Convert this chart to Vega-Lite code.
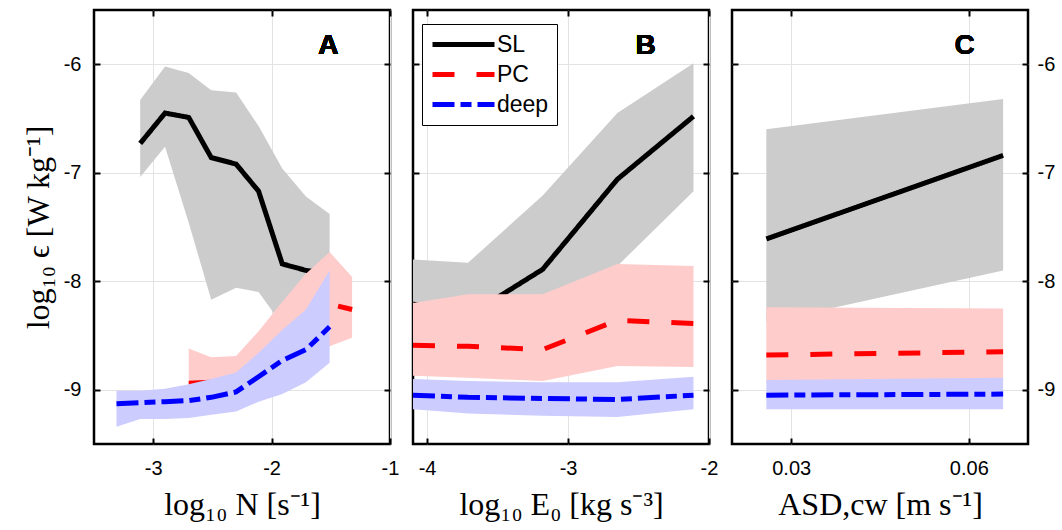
{
  "$schema": "https://vega.github.io/schema/vega-lite/v6.json",
  "padding": {"left": 20, "top": 7, "right": 0, "bottom": 0},
  "background": "white",
  "bounds": "flush",
  "config": {
    "view": {"stroke": "black", "strokeWidth": 2.5},
    "axis": {
      "labelFont": "Liberation Sans", "labelFontSize": 20, "labelColor": "black",
      "titleFont": "Liberation Serif", "titleFontSize": 32, "titleFontWeight": "normal", "titleColor": "black",
      "domain": false, "tickColor": "black", "tickWidth": 2, "tickSize": -6,
      "gridColor": "#e3e3e3", "gridWidth": 1,
      "labelFlush": false, "labelOverlap": false, "labelBound": false
    },
    "text": {"font": "Liberation Sans"}
  },
  "spacing": 23,
  "resolve": {"legend": {"color": "independent", "strokeDash": "independent"}},
  "datasets": {
    "d": [
      {"p": "A", "s": "SL", "x": -3.11, "y": -6.73, "lo": -7.04, "hi": -6.33},
      {"p": "A", "s": "SL", "x": -2.90, "y": -6.45, "lo": -6.76, "hi": -6.02},
      {"p": "A", "s": "SL", "x": -2.70, "y": -6.49, "lo": -7.46, "hi": -6.08},
      {"p": "A", "s": "SL", "x": -2.51, "y": -6.86, "lo": -8.17, "hi": -6.24},
      {"p": "A", "s": "SL", "x": -2.30, "y": -6.92, "lo": -8.06, "hi": -6.26},
      {"p": "A", "s": "SL", "x": -2.11, "y": -7.17, "lo": -8.10, "hi": -6.57},
      {"p": "A", "s": "SL", "x": -1.91, "y": -7.84, "lo": -8.40, "hi": -6.96},
      {"p": "A", "s": "SL", "x": -1.71, "y": -7.90, "lo": -8.35, "hi": -7.22},
      {"p": "A", "s": "SL", "x": -1.51, "y": -7.93, "lo": -8.10, "hi": -7.38},
      {"p": "A", "s": "PC", "x": -2.70, "y": -8.94, "lo": -9.10, "hi": -8.62},
      {"p": "A", "s": "PC", "x": -2.51, "y": -8.93, "lo": -9.08, "hi": -8.70},
      {"p": "A", "s": "PC", "x": -2.30, "y": -8.88, "lo": -9.05, "hi": -8.69},
      {"p": "A", "s": "PC", "x": -2.11, "y": -8.78, "lo": -8.95, "hi": -8.46},
      {"p": "A", "s": "PC", "x": -1.91, "y": -8.62, "lo": -8.85, "hi": -8.19},
      {"p": "A", "s": "PC", "x": -1.71, "y": -8.40, "lo": -8.72, "hi": -7.93},
      {"p": "A", "s": "PC", "x": -1.51, "y": -8.21, "lo": -8.60, "hi": -7.73},
      {"p": "A", "s": "PC", "x": -1.32, "y": -8.26, "lo": -8.52, "hi": -7.96},
      {"p": "A", "s": "deep", "x": -3.31, "y": -9.13, "lo": -9.34, "hi": -9.01},
      {"p": "A", "s": "deep", "x": -3.11, "y": -9.12, "lo": -9.27, "hi": -9.01},
      {"p": "A", "s": "deep", "x": -2.90, "y": -9.11, "lo": -9.27, "hi": -8.99},
      {"p": "A", "s": "deep", "x": -2.70, "y": -9.10, "lo": -9.26, "hi": -8.95},
      {"p": "A", "s": "deep", "x": -2.51, "y": -9.07, "lo": -9.23, "hi": -8.90},
      {"p": "A", "s": "deep", "x": -2.30, "y": -9.02, "lo": -9.20, "hi": -8.84},
      {"p": "A", "s": "deep", "x": -2.11, "y": -8.88, "lo": -9.11, "hi": -8.66},
      {"p": "A", "s": "deep", "x": -1.91, "y": -8.73, "lo": -9.04, "hi": -8.45},
      {"p": "A", "s": "deep", "x": -1.71, "y": -8.63, "lo": -8.93, "hi": -8.26},
      {"p": "A", "s": "deep", "x": -1.51, "y": -8.42, "lo": -8.75, "hi": -7.90},
      {"p": "B", "s": "SL", "x": -4.10, "y": -8.21, "lo": -8.50, "hi": -7.80},
      {"p": "B", "s": "SL", "x": -3.71, "y": -8.32, "lo": -8.50, "hi": -7.83},
      {"p": "B", "s": "SL", "x": -3.18, "y": -7.89, "lo": -8.30, "hi": -7.21},
      {"p": "B", "s": "SL", "x": -2.65, "y": -7.06, "lo": -7.86, "hi": -6.45},
      {"p": "B", "s": "SL", "x": -2.11, "y": -6.48, "lo": -7.17, "hi": -5.99},
      {"p": "B", "s": "PC", "x": -4.10, "y": -8.59, "lo": -8.87, "hi": -8.20},
      {"p": "B", "s": "PC", "x": -3.71, "y": -8.60, "lo": -8.89, "hi": -8.12},
      {"p": "B", "s": "PC", "x": -3.18, "y": -8.63, "lo": -8.92, "hi": -8.12},
      {"p": "B", "s": "PC", "x": -2.65, "y": -8.36, "lo": -8.78, "hi": -7.84},
      {"p": "B", "s": "PC", "x": -2.11, "y": -8.39, "lo": -8.79, "hi": -7.86},
      {"p": "B", "s": "deep", "x": -4.10, "y": -9.05, "lo": -9.18, "hi": -8.90},
      {"p": "B", "s": "deep", "x": -3.71, "y": -9.07, "lo": -9.22, "hi": -8.92},
      {"p": "B", "s": "deep", "x": -3.18, "y": -9.08, "lo": -9.24, "hi": -8.93},
      {"p": "B", "s": "deep", "x": -2.65, "y": -9.09, "lo": -9.25, "hi": -8.93},
      {"p": "B", "s": "deep", "x": -2.11, "y": -9.05, "lo": -9.18, "hi": -8.88},
      {"p": "C", "s": "SL", "x": 0.0258, "y": -7.61, "lo": -8.38, "hi": -6.60},
      {"p": "C", "s": "SL", "x": 0.0658, "y": -6.84, "lo": -7.90, "hi": -6.32},
      {"p": "C", "s": "PC", "x": 0.0258, "y": -8.68, "lo": -8.93, "hi": -8.24},
      {"p": "C", "s": "PC", "x": 0.0658, "y": -8.65, "lo": -8.92, "hi": -8.25},
      {"p": "C", "s": "deep", "x": 0.0258, "y": -9.05, "lo": -9.18, "hi": -8.91},
      {"p": "C", "s": "deep", "x": 0.0658, "y": -9.04, "lo": -9.18, "hi": -8.89}
    ]
  },
  "hconcat": [
    {
      "width": 296, "height": 434,
      "data": {"name": "d"},
      "transform": [{"filter": "datum.p == 'A'"}],
      "layer": [
        {
          "transform": [{"filter": "datum.s == 'SL'"}],
          "mark": {"type": "area", "color": "#cccccc", "opacity": 1},
          "encoding": {
            "x": {"field": "x", "type": "quantitative", "scale": {"domain": [-3.5, -1], "nice": false, "zero": false},
                  "axis": {"orient": "bottom", "values": [-3, -2, -1], "labelExpr": "'' + datum.value", "labelPadding": 20, "title": "log₁₀ N [s⁻¹]", "titlePadding": 11, "grid": true}},
            "y": {"field": "hi", "type": "quantitative", "scale": {"domain": [-9.5, -5.5], "nice": false, "zero": false},
                  "axis": {"orient": "left", "values": [-9, -8, -7, -6], "labelExpr": "'' + datum.value", "labelPadding": 19, "title": "log₁₀ ϵ [W kg⁻¹]", "titlePadding": 8, "grid": true}},
            "y2": {"field": "lo"}
          }
        },
        {
          "transform": [{"filter": "datum.s == 'SL'"}],
          "mark": {"type": "line", "strokeWidth": 5, "strokeCap": "butt"},
          "encoding": {
            "x": {"field": "x", "type": "quantitative", "axis": {"orient": "top", "values": [-3, -2, -1], "labels": false, "grid": false, "title": null, "minExtent": 0, "maxExtent": 0}},
            "y": {"field": "y", "type": "quantitative", "axis": {"orient": "right", "values": [-9, -8, -7, -6], "labels": false, "grid": false, "title": null, "minExtent": 0, "maxExtent": 0}},
            "color": {"field": "s", "type": "nominal", "scale": {"domain": ["SL", "PC", "deep"], "range": ["black", "red", "blue"]}, "legend": null},
            "strokeDash": {"field": "s", "type": "nominal", "scale": {"domain": ["SL", "PC", "deep"], "range": [[1, 0], [22, 22], [22, 6, 11, 6]]}, "legend": null}
          }
        },
        {
          "transform": [{"filter": "datum.s == 'PC'"}],
          "mark": {"type": "area", "color": "#ffcccc", "opacity": 1},
          "encoding": {
            "x": {"field": "x", "type": "quantitative", "axis": null},
            "y": {"field": "hi", "type": "quantitative", "axis": null},
            "y2": {"field": "lo"}
          }
        },
        {
          "transform": [{"filter": "datum.s == 'PC'"}],
          "mark": {"type": "line", "strokeWidth": 5, "strokeCap": "butt"},
          "encoding": {
            "x": {"field": "x", "type": "quantitative", "axis": null},
            "y": {"field": "y", "type": "quantitative", "axis": null},
            "color": {"field": "s", "type": "nominal", "scale": {"domain": ["SL", "PC", "deep"], "range": ["black", "red", "blue"]}, "legend": null},
            "strokeDash": {"field": "s", "type": "nominal", "scale": {"domain": ["SL", "PC", "deep"], "range": [[1, 0], [22, 22], [22, 6, 11, 6]]}, "legend": null}
          }
        },
        {
          "transform": [{"filter": "datum.s == 'deep'"}],
          "mark": {"type": "area", "color": "#ccccff", "opacity": 1},
          "encoding": {
            "x": {"field": "x", "type": "quantitative", "axis": null},
            "y": {"field": "hi", "type": "quantitative", "axis": null},
            "y2": {"field": "lo"}
          }
        },
        {
          "transform": [{"filter": "datum.s == 'deep'"}],
          "mark": {"type": "line", "strokeWidth": 5, "strokeCap": "butt"},
          "encoding": {
            "x": {"field": "x", "type": "quantitative", "axis": null},
            "y": {"field": "y", "type": "quantitative", "axis": null},
            "color": {"field": "s", "type": "nominal", "scale": {"domain": ["SL", "PC", "deep"], "range": ["black", "red", "blue"]}, "legend": null},
            "strokeDash": {"field": "s", "type": "nominal", "scale": {"domain": ["SL", "PC", "deep"], "range": [[1, 0], [22, 22], [22, 6, 11, 6]]}, "legend": null}
          }
        },
        {
          "mark": {"type": "text", "fontSize": 28, "fontWeight": "bold", "align": "center", "baseline": "alphabetic", "color": "black"},
          "encoding": {
            "x": {"datum": -1.52, "type": "quantitative", "axis": null},
            "y": {"datum": -5.91, "type": "quantitative", "axis": null},
            "text": {"value": "A"}
          }
        }
      ]
    },
    {
      "width": 296, "height": 434,
      "data": {"name": "d"},
      "transform": [{"filter": "datum.p == 'B'"}],
      "layer": [
        {
          "transform": [{"filter": "datum.s == 'SL'"}],
          "mark": {"type": "area", "color": "#cccccc", "opacity": 1},
          "encoding": {
            "x": {"field": "x", "type": "quantitative", "scale": {"domain": [-4.1, -2], "nice": false, "zero": false},
                  "axis": {"orient": "bottom", "values": [-4, -3, -2], "labelExpr": "'' + datum.value", "labelPadding": 20, "title": "log₁₀ E₀ [kg s⁻³]", "titlePadding": 11, "grid": true}},
            "y": {"field": "hi", "type": "quantitative", "scale": {"domain": [-9.5, -5.5], "nice": false, "zero": false},
                  "axis": {"orient": "left", "values": [-9, -8, -7, -6], "labels": false, "title": null, "grid": true, "minExtent": 0, "maxExtent": 0}},
            "y2": {"field": "lo"}
          }
        },
        {
          "transform": [{"filter": "datum.s == 'SL'"}],
          "mark": {"type": "line", "strokeWidth": 5, "strokeCap": "butt"},
          "encoding": {
            "x": {"field": "x", "type": "quantitative", "axis": {"orient": "top", "values": [-4, -3, -2], "labels": false, "grid": false, "title": null, "minExtent": 0, "maxExtent": 0}},
            "y": {"field": "y", "type": "quantitative", "axis": {"orient": "right", "values": [-9, -8, -7, -6], "labels": false, "grid": false, "title": null, "minExtent": 0, "maxExtent": 0}},
            "color": {"field": "s", "type": "nominal", "scale": {"domain": ["SL", "PC", "deep"], "range": ["black", "red", "blue"]},
                      "legend": {"title": null, "orient": "none", "legendX": 9, "legendY": 14, "symbolType": "stroke", "symbolSize": 3844, "symbolStrokeWidth": 5, "clipHeight": 25, "rowPadding": 5, "padding": 8, "labelOffset": 0, "labelFont": "Liberation Sans", "labelFontSize": 23, "labelColor": "black", "strokeColor": "black", "fillColor": "white"}},
            "strokeDash": {"field": "s", "type": "nominal", "scale": {"domain": ["SL", "PC", "deep"], "range": [[1, 0], [22, 22], [22, 6, 11, 6]]},
                      "legend": {"title": null, "orient": "none", "legendX": 9, "legendY": 14, "symbolType": "stroke", "symbolSize": 3844, "symbolStrokeWidth": 5, "clipHeight": 25, "rowPadding": 5, "padding": 8, "labelOffset": 0, "labelFont": "Liberation Sans", "labelFontSize": 23, "labelColor": "black", "strokeColor": "black", "fillColor": "white"}}
          }
        },
        {
          "transform": [{"filter": "datum.s == 'PC'"}],
          "mark": {"type": "area", "color": "#ffcccc", "opacity": 1},
          "encoding": {
            "x": {"field": "x", "type": "quantitative", "axis": null},
            "y": {"field": "hi", "type": "quantitative", "axis": null},
            "y2": {"field": "lo"}
          }
        },
        {
          "transform": [{"filter": "datum.s == 'PC'"}],
          "mark": {"type": "line", "strokeWidth": 5, "strokeCap": "butt"},
          "encoding": {
            "x": {"field": "x", "type": "quantitative", "axis": null},
            "y": {"field": "y", "type": "quantitative", "axis": null},
            "color": {"field": "s", "type": "nominal", "scale": {"domain": ["SL", "PC", "deep"], "range": ["black", "red", "blue"]},
                      "legend": {"title": null, "orient": "none", "legendX": 9, "legendY": 14, "symbolType": "stroke", "symbolSize": 3844, "symbolStrokeWidth": 5, "clipHeight": 25, "rowPadding": 5, "padding": 8, "labelOffset": 0, "labelFont": "Liberation Sans", "labelFontSize": 23, "labelColor": "black", "strokeColor": "black", "fillColor": "white"}},
            "strokeDash": {"field": "s", "type": "nominal", "scale": {"domain": ["SL", "PC", "deep"], "range": [[1, 0], [22, 22], [22, 6, 11, 6]]},
                      "legend": {"title": null, "orient": "none", "legendX": 9, "legendY": 14, "symbolType": "stroke", "symbolSize": 3844, "symbolStrokeWidth": 5, "clipHeight": 25, "rowPadding": 5, "padding": 8, "labelOffset": 0, "labelFont": "Liberation Sans", "labelFontSize": 23, "labelColor": "black", "strokeColor": "black", "fillColor": "white"}}
          }
        },
        {
          "transform": [{"filter": "datum.s == 'deep'"}],
          "mark": {"type": "area", "color": "#ccccff", "opacity": 1},
          "encoding": {
            "x": {"field": "x", "type": "quantitative", "axis": null},
            "y": {"field": "hi", "type": "quantitative", "axis": null},
            "y2": {"field": "lo"}
          }
        },
        {
          "transform": [{"filter": "datum.s == 'deep'"}],
          "mark": {"type": "line", "strokeWidth": 5, "strokeCap": "butt"},
          "encoding": {
            "x": {"field": "x", "type": "quantitative", "axis": null},
            "y": {"field": "y", "type": "quantitative", "axis": null},
            "color": {"field": "s", "type": "nominal", "scale": {"domain": ["SL", "PC", "deep"], "range": ["black", "red", "blue"]},
                      "legend": {"title": null, "orient": "none", "legendX": 9, "legendY": 14, "symbolType": "stroke", "symbolSize": 3844, "symbolStrokeWidth": 5, "clipHeight": 25, "rowPadding": 5, "padding": 8, "labelOffset": 0, "labelFont": "Liberation Sans", "labelFontSize": 23, "labelColor": "black", "strokeColor": "black", "fillColor": "white"}},
            "strokeDash": {"field": "s", "type": "nominal", "scale": {"domain": ["SL", "PC", "deep"], "range": [[1, 0], [22, 22], [22, 6, 11, 6]]},
                      "legend": {"title": null, "orient": "none", "legendX": 9, "legendY": 14, "symbolType": "stroke", "symbolSize": 3844, "symbolStrokeWidth": 5, "clipHeight": 25, "rowPadding": 5, "padding": 8, "labelOffset": 0, "labelFont": "Liberation Sans", "labelFontSize": 23, "labelColor": "black", "strokeColor": "black", "fillColor": "white"}}
          }
        },
        {
          "mark": {"type": "text", "fontSize": 28, "fontWeight": "bold", "align": "center", "baseline": "alphabetic", "color": "black"},
          "encoding": {
            "x": {"datum": -2.45, "type": "quantitative", "axis": null},
            "y": {"datum": -5.905, "type": "quantitative", "axis": null},
            "text": {"value": "B"}
          }
        }
      ]
    },
    {
      "width": 296, "height": 434,
      "data": {"name": "d"},
      "transform": [{"filter": "datum.p == 'C'"}],
      "layer": [
        {
          "transform": [{"filter": "datum.s == 'SL'"}],
          "mark": {"type": "area", "color": "#cccccc", "opacity": 1},
          "encoding": {
            "x": {"field": "x", "type": "quantitative", "scale": {"domain": [0.02, 0.07], "nice": false, "zero": false},
                  "axis": {"orient": "bottom", "values": [0.03, 0.06], "labelExpr": "'' + datum.value", "labelPadding": 20, "title": "ASD,cw [m s⁻¹]", "titlePadding": 11, "grid": true}},
            "y": {"field": "hi", "type": "quantitative", "scale": {"domain": [-9.5, -5.5], "nice": false, "zero": false},
                  "axis": {"orient": "right", "values": [-9, -8, -7, -6], "labelExpr": "'' + datum.value", "labelPadding": 15, "title": null, "grid": true}},
            "y2": {"field": "lo"}
          }
        },
        {
          "transform": [{"filter": "datum.s == 'SL'"}],
          "mark": {"type": "line", "strokeWidth": 5, "strokeCap": "butt"},
          "encoding": {
            "x": {"field": "x", "type": "quantitative", "axis": {"orient": "top", "values": [0.03, 0.06], "labels": false, "grid": false, "title": null, "minExtent": 0, "maxExtent": 0}},
            "y": {"field": "y", "type": "quantitative", "axis": {"orient": "left", "values": [-9, -8, -7, -6], "labels": false, "grid": false, "title": null, "minExtent": 0, "maxExtent": 0}},
            "color": {"field": "s", "type": "nominal", "scale": {"domain": ["SL", "PC", "deep"], "range": ["black", "red", "blue"]}, "legend": null},
            "strokeDash": {"field": "s", "type": "nominal", "scale": {"domain": ["SL", "PC", "deep"], "range": [[1, 0], [22, 22], [22, 6, 11, 6]]}, "legend": null}
          }
        },
        {
          "transform": [{"filter": "datum.s == 'PC'"}],
          "mark": {"type": "area", "color": "#ffcccc", "opacity": 1},
          "encoding": {
            "x": {"field": "x", "type": "quantitative", "axis": null},
            "y": {"field": "hi", "type": "quantitative", "axis": null},
            "y2": {"field": "lo"}
          }
        },
        {
          "transform": [{"filter": "datum.s == 'PC'"}],
          "mark": {"type": "line", "strokeWidth": 5, "strokeCap": "butt"},
          "encoding": {
            "x": {"field": "x", "type": "quantitative", "axis": null},
            "y": {"field": "y", "type": "quantitative", "axis": null},
            "color": {"field": "s", "type": "nominal", "scale": {"domain": ["SL", "PC", "deep"], "range": ["black", "red", "blue"]}, "legend": null},
            "strokeDash": {"field": "s", "type": "nominal", "scale": {"domain": ["SL", "PC", "deep"], "range": [[1, 0], [22, 22], [22, 6, 11, 6]]}, "legend": null}
          }
        },
        {
          "transform": [{"filter": "datum.s == 'deep'"}],
          "mark": {"type": "area", "color": "#ccccff", "opacity": 1},
          "encoding": {
            "x": {"field": "x", "type": "quantitative", "axis": null},
            "y": {"field": "hi", "type": "quantitative", "axis": null},
            "y2": {"field": "lo"}
          }
        },
        {
          "transform": [{"filter": "datum.s == 'deep'"}],
          "mark": {"type": "line", "strokeWidth": 5, "strokeCap": "butt"},
          "encoding": {
            "x": {"field": "x", "type": "quantitative", "axis": null},
            "y": {"field": "y", "type": "quantitative", "axis": null},
            "color": {"field": "s", "type": "nominal", "scale": {"domain": ["SL", "PC", "deep"], "range": ["black", "red", "blue"]}, "legend": null},
            "strokeDash": {"field": "s", "type": "nominal", "scale": {"domain": ["SL", "PC", "deep"], "range": [[1, 0], [22, 22], [22, 6, 11, 6]]}, "legend": null}
          }
        },
        {
          "mark": {"type": "text", "fontSize": 28, "fontWeight": "bold", "align": "center", "baseline": "alphabetic", "color": "black"},
          "encoding": {
            "x": {"datum": 0.0593, "type": "quantitative", "axis": null},
            "y": {"datum": -5.91, "type": "quantitative", "axis": null},
            "text": {"value": "C"}
          }
        }
      ]
    }
  ]
}
